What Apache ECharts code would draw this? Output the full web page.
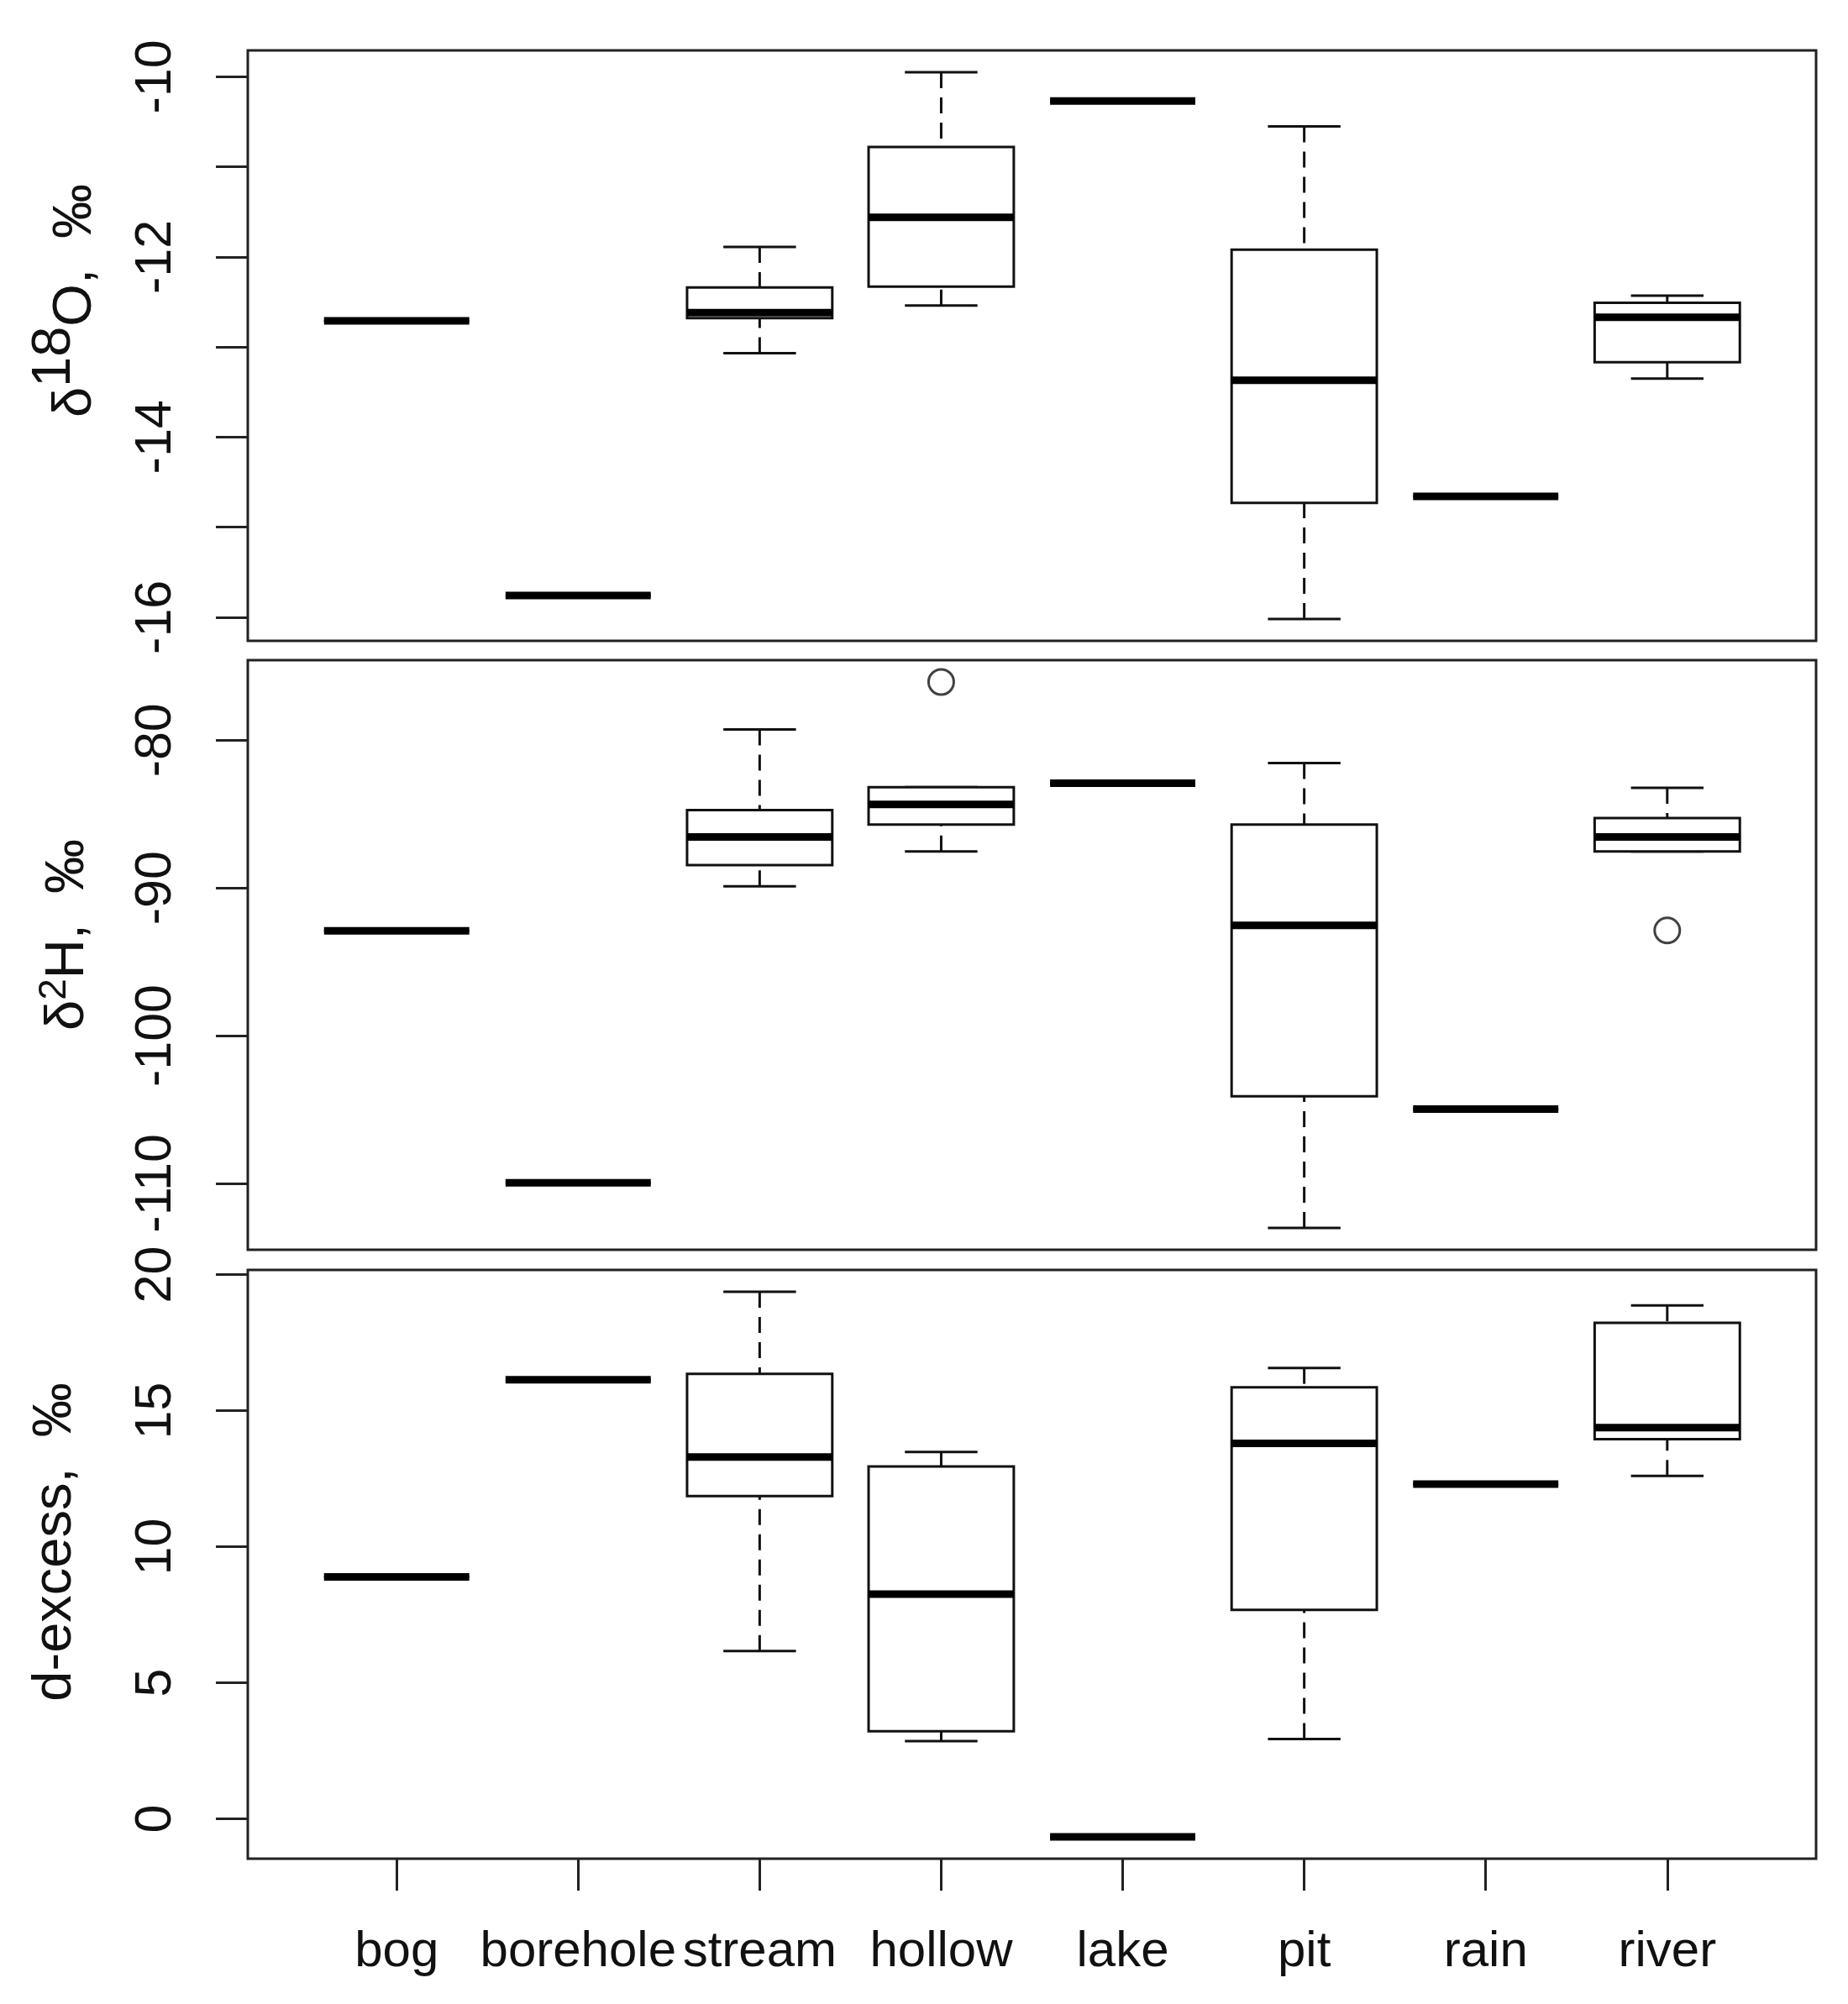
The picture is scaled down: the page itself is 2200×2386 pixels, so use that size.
<!DOCTYPE html>
<html>
<head>
<meta charset="utf-8">
<title>isotope boxplots</title>
<script src="https://cdn.jsdelivr.net/npm/echarts@6/dist/echarts.min.js"></script>
<style>
html,body{margin:0;padding:0;background:#fff;}
#show{width:2200px;height:2386px;}
</style>
</head>
<body>
<div id="show"></div>
<script>
var cats = ['bog', 'borehole', 'stream', 'hollow', 'lake', 'pit', 'rain', 'river'];

// per site: lower whisker, Q1, median, Q3, upper whisker
var d18O = [
    [-12.71, -12.71, -12.71, -12.71, -12.71],
    [-15.76, -15.76, -15.76, -15.76, -15.76],
    [-13.07, -12.68, -12.62, -12.34, -11.89],
    [-12.54, -12.33, -11.56, -10.78, -9.95],
    [-10.27, -10.27, -10.27, -10.27, -10.27],
    [-16.02, -14.73, -13.37, -11.92, -10.55],
    [-14.66, -14.66, -14.66, -14.66, -14.66],
    [-13.35, -13.17, -12.67, -12.51, -12.43]
];
var d2H = [
    [-92.91, -92.91, -92.91, -92.91, -92.91],
    [-109.97, -109.97, -109.97, -109.97, -109.97],
    [-89.89, -88.45, -86.55, -84.73, -79.27],
    [-87.53, -85.71, -84.35, -83.18, -83.18],
    [-82.91, -82.91, -82.91, -82.91, -82.91],
    [-113.02, -104.11, -92.53, -85.71, -81.55],
    [-104.98, -104.98, -104.98, -104.98, -104.98],
    [-87.53, -87.53, -86.55, -85.27, -83.23]
];
var dexc = [
    [8.89, 8.89, 8.89, 8.89, 8.89],
    [16.14, 16.14, 16.14, 16.14, 16.14],
    [6.17, 11.86, 13.30, 16.35, 19.37],
    [2.86, 3.22, 8.26, 12.95, 13.48],
    [-0.66, -0.66, -0.66, -0.66, -0.66],
    [2.94, 7.68, 13.80, 15.86, 16.57],
    [12.30, 12.30, 12.30, 12.30, 12.30],
    [12.60, 13.95, 14.38, 18.23, 18.87]
];
// outliers: [site number, value]
var d18Oout = [];
var d2Hout = [[4, -76.06], [8, -92.88]];
var dexcOut = [];

var o18Ticks = [-16, -15, -14, -13, -12, -11, -10];
var o18Labels = [-16, -14, -12, -10];
var h2Ticks = [-110, -100, -90, -80];
var dexTicks = [0, 5, 10, 15, 20];
var siteTicks = [1, 2, 3, 4, 5, 6, 7, 8];

var myChart = echarts.init(document.getElementById('show'));

var font = 'Liberation Sans';
var ink = '#111';

// R style range: data extent plus 4% each side
function padRange(stats, outs) {
    var lo = Infinity, hi = -Infinity;
    stats.forEach(function (s) {
        lo = Math.min(lo, s[0]);
        hi = Math.max(hi, s[4]);
    });
    outs.forEach(function (o) {
        lo = Math.min(lo, o[1]);
        hi = Math.max(hi, o[1]);
    });
    var pad = (hi - lo) * 0.04;
    return [lo - pad, hi + pad];
}

function renderBox(params, api) {
    var x = api.value(0);
    var lo = api.coord([x, api.value(1)]);
    var q1 = api.coord([x, api.value(2)]);
    var md = api.coord([x, api.value(3)]);
    var q3 = api.coord([x, api.value(4)]);
    var hi = api.coord([x, api.value(5)]);
    var bw = api.size([0.8, 0])[0];
    var cx = md[0];
    var solid = {stroke: ink, lineWidth: 3, fill: null};
    var dash = {stroke: ink, lineWidth: 3, lineDash: [19, 11], fill: null};
    return {
        type: 'group',
        children: [
            {type: 'line', shape: {x1: cx, y1: lo[1], x2: cx, y2: q1[1]}, style: dash},
            {type: 'line', shape: {x1: cx, y1: hi[1], x2: cx, y2: q3[1]}, style: dash},
            {type: 'line', shape: {x1: cx - bw / 4, y1: lo[1], x2: cx + bw / 4, y2: lo[1]}, style: solid},
            {type: 'line', shape: {x1: cx - bw / 4, y1: hi[1], x2: cx + bw / 4, y2: hi[1]}, style: solid},
            {type: 'rect', shape: {x: cx - bw / 2, y: q3[1], width: bw, height: q1[1] - q3[1]},
                style: {fill: '#fff', stroke: ink, lineWidth: 3}},
            {type: 'line', shape: {x1: cx - bw / 2, y1: md[1], x2: cx + bw / 2, y2: md[1]},
                style: {stroke: '#000', lineWidth: 9}}
        ]
    };
}

var panels = [
    {stats: d18O, outs: d18Oout, ticks: o18Ticks, labels: o18Labels, top: 60, height: 703},
    {stats: d2H, outs: d2Hout, ticks: h2Ticks, labels: h2Ticks, top: 786, height: 702},
    {stats: dexc, outs: dexcOut, ticks: dexTicks, labels: dexTicks, top: 1512, height: 701}
];

var grids = [], xAxes = [], yAxes = [], series = [];
var xPad = cats.length * 0.04;

panels.forEach(function (p, i) {
    var last = i == panels.length - 1;
    var range = padRange(p.stats, p.outs);
    grids.push({
        left: 295, top: p.top, width: 1867, height: p.height,
        show: true, borderColor: '#222', borderWidth: 3, backgroundColor: 'transparent'
    });
    xAxes.push({
        gridIndex: i, type: 'value', position: 'bottom',
        min: 0.5 - xPad, max: cats.length + 0.5 + xPad,
        axisLine: {show: false, onZero: false}, splitLine: {show: false},
        axisTick: {show: last, customValues: siteTicks, length: 38, lineStyle: {color: '#222', width: 3}},
        axisLabel: {
            show: last, customValues: siteTicks, margin: 81,
            fontSize: 60, fontFamily: font, color: ink,
            formatter: function (v) { return cats[Math.round(v) - 1]; }
        }
    });
    yAxes.push({
        gridIndex: i, type: 'value', position: 'left', min: range[0], max: range[1],
        axisLine: {show: false, onZero: false}, splitLine: {show: false},
        axisTick: {customValues: p.ticks, length: 38, lineStyle: {color: '#222', width: 3}},
        axisLabel: {customValues: p.labels, rotate: 90, margin: 78, fontSize: 61, fontFamily: font, color: ink}
    });
    series.push({
        type: 'custom', xAxisIndex: i, yAxisIndex: i,
        renderItem: renderBox,
        encode: {x: 0, y: [1, 2, 3, 4, 5]},
        data: p.stats.map(function (s, k) { return [k + 1].concat(s); })
    });
    if (p.outs.length) {
        series.push({
            type: 'scatter', xAxisIndex: i, yAxisIndex: i,
            symbol: 'circle', symbolSize: 30, z: 5,
            itemStyle: {color: '#fff', borderColor: ink, borderWidth: 3},
            data: p.outs
        });
    }
});

var titleStyle = {fontSize: 65, fontFamily: font, color: ink};
function yTitle(x, y, text, rich) {
    return {
        type: 'text', x: x, y: y, rotation: Math.PI / 2,
        style: {
            text: text, align: 'center', verticalAlign: 'middle',
            fontSize: 65, fontFamily: font, fill: ink, rich: rich
        }
    };
}

option = {
    animation: false,
    backgroundColor: '#fff',
    grid: grids,
    xAxis: xAxes,
    yAxis: yAxes,
    series: series,
    graphic: [
        yTitle(90, 358, '{a|δ}{s|18}{a|O,  ‰}', {
            a: titleStyle,
            s: {fontSize: 65, fontFamily: font, color: ink, padding: [0, 0, 50, 0]}
        }),
        yTitle(81, 1113, '{a|δ}{s|2}{a|H,  ‰}', {
            a: titleStyle,
            s: {fontSize: 46, fontFamily: font, color: ink, padding: [0, 0, 32, 0]}
        }),
        yTitle(66, 1836, 'd-excess,  ‰')
    ]
};
myChart.setOption(option);
</script>
</body>
</html>
